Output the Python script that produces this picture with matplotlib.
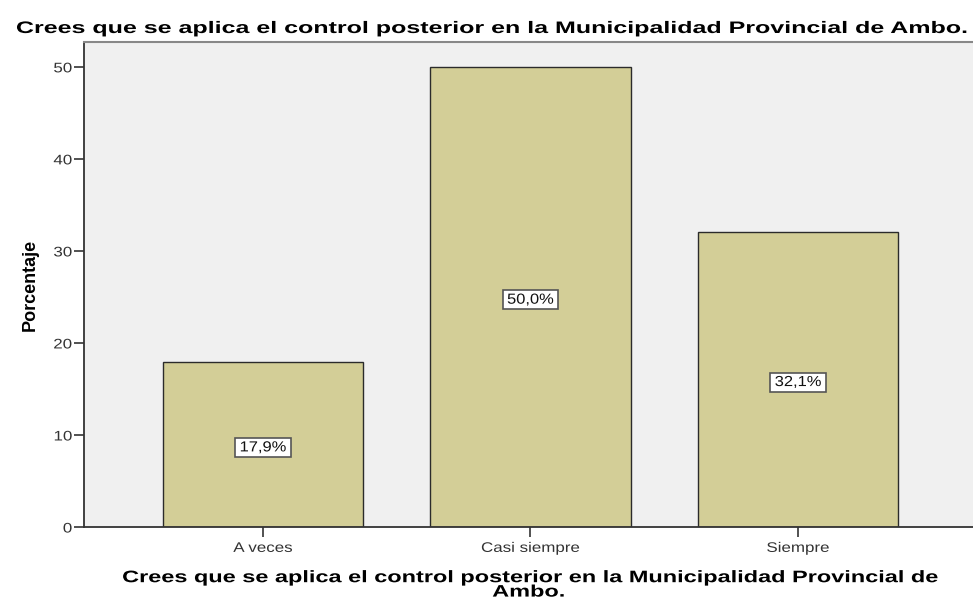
import matplotlib
matplotlib.use('Agg')
import matplotlib.pyplot as plt
from matplotlib.patheffects import AbstractPathEffect
from matplotlib.transforms import Affine2D

categorias = ['A veces', 'Casi siempre', 'Siempre']
porcentajes = [17.9, 50.0, 32.1]
etiquetas = ['17,9%', '50,0%', '32,1%']
yticks = [0, 10, 20, 30, 40, 50]
titulo = 'Crees que se aplica el control posterior en la Municipalidad Provincial de Ambo.'
xlabel = 'Crees que se aplica el control posterior en la Municipalidad Provincial de\nAmbo.'


# SPSS draws its Arial text wider than normal: stretch glyphs horizontally
class StretchX(AbstractPathEffect):
    def __init__(self, sx, anchor='center'):
        super().__init__()
        self.sx = sx
        self.anchor = anchor

    def draw_path(self, renderer, gc, tpath, affine, rgbFace=None):
        ext = tpath.get_extents(affine)
        if self.anchor == 'right':
            cx = ext.x1
        else:
            cx = (ext.x0 + ext.x1) / 2
        aff = affine + Affine2D().translate(-cx, 0).scale(self.sx, 1).translate(cx, 0)
        renderer.draw_path(gc, tpath, aff, rgbFace)


plt.rcParams['font.family'] = ['Liberation Sans', 'DejaVu Sans']

fig = plt.figure(figsize=(9.73, 5.98), dpi=100)
ax = fig.add_axes([0.0863, 0.1187, 0.9137, 0.8111])
ax.set_facecolor('#F0F0F0')

x = range(len(categorias))
ax.bar(x, porcentajes, width=0.748, color='#D3CE97', edgecolor='#2b2b2b', linewidth=1.0)

for xi, v, lab in zip(x, porcentajes, etiquetas):
    ax.text(xi, v / 2 - 0.3, lab, ha='center', va='center', fontsize=10.5, color='#111111',
            path_effects=[StretchX(1.13)],
            bbox=dict(boxstyle='square,pad=0.48', mutation_aspect=0.36,
                      facecolor='white', edgecolor='#555555', linewidth=1.2))

ax.set_xlim(-0.669, 2.654)
ax.set_ylim(0, 52.7)
ax.set_yticks(yticks)
ax.set_xticks(list(x))
ax.set_xticklabels(categorias)
ax.tick_params(axis='both', labelsize=10, labelcolor='#333333', color='#333333',
               length=7, width=1.2, direction='out')
ax.tick_params(axis='x', pad=3)
ax.tick_params(axis='y', pad=1.5)
plt.setp(ax.get_xticklabels(), path_effects=[StretchX(1.22)])
plt.setp(ax.get_yticklabels(), path_effects=[StretchX(1.22, 'right')])

for s in ['left', 'bottom']:
    ax.spines[s].set_color('#333333')
    ax.spines[s].set_linewidth(1.3)
ax.spines['top'].set_color('#888888')
ax.spines['top'].set_linewidth(1.5)
ax.spines['right'].set_visible(False)

ax.set_ylabel('Porcentaje', fontsize=13, fontweight='bold', labelpad=13)
ax.set_xlabel(xlabel, fontsize=12, fontweight='bold', linespacing=0.95, labelpad=11,
              path_effects=[StretchX(1.41)])
fig.text(0.5036, 1 - 33 / 598, titulo, ha='center', va='baseline', fontsize=12,
         fontweight='bold', path_effects=[StretchX(1.5)])

fig.savefig('out.png', dpi=100)
